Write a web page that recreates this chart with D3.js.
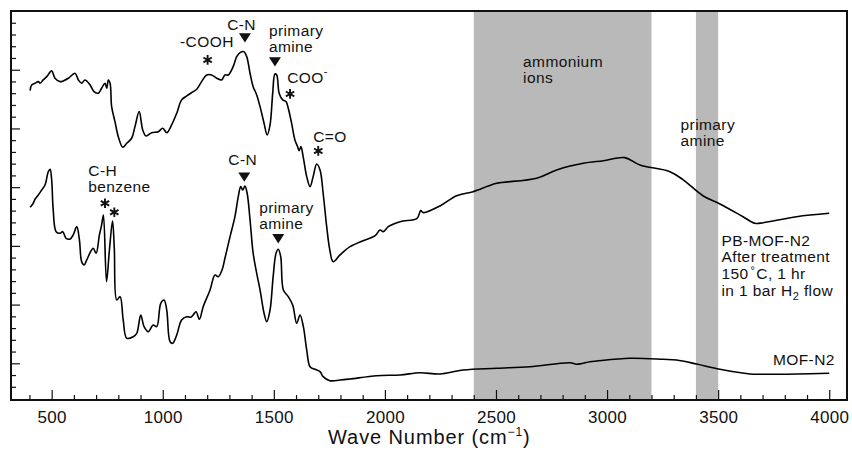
<!DOCTYPE html>
<html><head><meta charset="utf-8">
<script src="https://cdn.jsdelivr.net/npm/d3@7"></script>
<style>
body{margin:0;background:#fff;}
svg{display:block;}
text{font-family:"Liberation Sans",Arial,Helvetica,sans-serif;fill:#111;}
</style></head>
<body>
<svg id="c" width="852" height="450"></svg>
<script>
// ---- data (wavenumber in cm^-1, offset absorbance in arbitrary units) ----
const pbWave = [403,410,425,440,448,462,478,500,515,538,552,575,605,620,635,650,673,691,710,725,740,748,755,763,770,785,800,820,838,860,875,894,910,925,950,980,1000,1018,1040,1063,1085,1108,1137,1153,1175,1198,1220,1243,1265,1280,1295,1317,1333,1348,1365,1378,1393,1407,1423,1438,1456,1470,1483,1495,1505,1513,1524,1540,1555,1565,1580,1595,1607,1614,1622,1632,1648,1663,1677,1693,1708,1722,1738,1752,1767,1798,1843,1902,1955,1978,1993,2015,2068,2145,2161,2173,2248,2323,2397,2465,2503,2683,2773,2893,2983,3080,3148,3283,3343,3433,3508,3612,3665,3703,3853,4000];
const pbValue = [4.644,4.741,4.770,4.797,4.770,4.826,4.882,4.980,4.855,4.797,4.809,4.855,4.940,4.826,4.770,4.826,4.741,4.627,4.600,4.685,4.770,4.685,4.826,4.770,4.371,4.116,3.860,3.680,3.748,3.833,4.031,4.286,3.974,3.872,3.928,3.945,4.003,3.928,4.060,4.259,4.486,4.554,4.627,4.668,4.797,4.911,4.911,4.855,4.826,4.911,4.911,5.053,5.223,5.291,5.308,5.223,4.940,4.712,4.571,4.371,4.089,3.889,4.060,4.600,4.928,4.911,4.600,4.486,4.457,4.344,4.089,3.804,3.690,3.622,3.690,3.520,3.179,3.009,3.179,3.395,3.293,2.896,2.327,1.930,1.731,1.845,1.986,2.089,2.169,2.271,2.242,2.327,2.412,2.470,2.600,2.566,2.680,2.855,2.923,3.020,3.066,3.152,3.293,3.407,3.451,3.503,3.378,3.264,3.123,2.850,2.714,2.497,2.385,2.395,2.497,2.555];

const mofWave = [403,417,425,440,455,470,485,493,500,507,520,538,550,565,583,597,613,625,635,646,658,673,687,700,715,725,733,747,760,774,782,793,808,822,838,867,883,901,916,935,957,973,991,1006,1018,1033,1045,1063,1085,1108,1126,1137,1150,1165,1182,1213,1235,1250,1267,1280,1303,1325,1340,1351,1360,1370,1380,1393,1407,1423,1438,1456,1468,1483,1497,1510,1520,1531,1543,1565,1585,1603,1618,1633,1648,1663,1685,1708,1722,1752,1798,1843,1963,2068,2158,2248,2353,2503,2653,2833,2863,2923,2953,3103,3253,3313,3403,3508,3643,3703,3853,4000];
const mofValue = [2.658,2.726,2.794,2.867,2.952,3.037,3.264,3.305,3.123,2.612,2.242,2.215,2.242,2.129,2.118,2.186,2.327,2.101,1.731,1.675,1.760,1.884,1.959,1.874,2.186,2.356,2.526,1.390,1.930,2.424,1.959,1.078,1.135,0.738,0.426,0.453,0.511,0.823,0.624,0.538,0.652,0.624,1.022,1.078,0.908,0.368,0.341,0.482,0.738,0.794,0.784,0.823,0.879,0.750,0.964,1.249,1.504,1.475,1.589,1.789,2.157,2.497,2.838,3.009,2.952,3.020,2.896,2.441,1.874,1.533,1.249,0.852,0.709,0.908,1.475,1.874,1.942,1.816,1.249,1.135,0.993,0.681,0.823,0.624,0.227,-0.058,-0.102,-0.143,-0.228,-0.296,-0.285,-0.267,-0.211,-0.199,-0.160,-0.182,-0.114,-0.085,-0.058,0.010,-0.017,0.027,0.039,0.085,0.068,0.056,-0.012,-0.102,-0.182,-0.187,-0.182,-0.170];

const bandStart = [2400, 3400];
const bandEnd   = [3200, 3500];

const xMajorTicks = [500,1000,1500,2000,2500,3000,3500,4000];
const xMinorTicks = [400,600,700,800,900,1100,1200,1300,1400,1600,1700,1800,1900,2100,2200,2300,2400,2600,2700,2800,2900,3100,3200,3300,3400,3600,3700,3800,3900];
const yMajorTicks = [0,1,2,3,4,5];
const yMinorTicks = [-0.4,-0.2,0.2,0.4,0.6,0.8,1.2,1.4,1.6,1.8,2.2,2.4,2.6,2.8,3.2,3.4,3.6,3.8,4.2,4.4,4.6,4.8,5.2,5.4,5.6,5.8];

// annotation labels
const textLabels = [
  {w:1078, v:5.393, t:"-COOH", a:"start"},
  {w:1355, v:5.678, t:"C-N", a:"middle"},
  {w:1478, v:5.576, t:"primary", a:"start"},
  {w:1478, v:5.305, t:"amine", a:"start"},
  {w:1677, v:3.775, t:"C=O", a:"start"},
  {w:1360, v:3.378, t:"C-N", a:"middle"},
  {w:665,  v:3.188, t:"C-H", a:"start"},
  {w:665,  v:2.917, t:"benzene", a:"start"},
  {w:1434, v:2.560, t:"primary", a:"start"},
  {w:1434, v:2.285, t:"amine", a:"start"},
  {w:2622, v:5.053, t:"ammonium", a:"start"},
  {w:2622, v:4.770, t:"ions", a:"start"},
  {w:3331, v:3.974, t:"primary", a:"start"},
  {w:3331, v:3.702, t:"amine", a:"start"},
  {w:3515, v:1.998, t:"PB-MOF-N2", a:"start"},
  {w:3515, v:1.718, t:"After treatment", a:"start"},
  {w:4025, v:-0.029, t:"MOF-N2", a:"end"}
];
const triangleMarks = [[1370,5.542],[1505,5.133],[1367,3.170],[1520,2.121]];
const asteriskMarks = [[1202,5.167],[1573,4.588],[1700,3.617],[740,2.726],[782,2.572]];

// ---- chart ----
const svg = d3.select("#c");
const x = d3.scaleLinear().domain([317,4080]).range([11,847]);
const y = d3.scaleLinear().domain([-0.625,6]).range([400,11]);

// bands
svg.append("g").selectAll("rect").data(bandStart.map((s,i)=>[s,bandEnd[i]])).join("rect")
  .attr("x", d=>x(d[0])).attr("width", d=>x(d[1])-x(d[0]))
  .attr("y", y(6)).attr("height", y(-0.625)-y(6))
  .attr("fill", "#b9b9b9");

// axes
const font = '"Liberation Sans",Arial,Helvetica,sans-serif';
svg.append("g").attr("transform","translate(0,400)")
  .call(d3.axisBottom(x).tickValues(xMinorTicks).tickSize(-5).tickFormat(""));
const gx = svg.append("g").attr("transform","translate(0,400)")
  .call(d3.axisBottom(x).tickValues(xMajorTicks).tickSize(-10).tickPadding(10.5).tickFormat(d3.format("d")));
gx.selectAll("text").attr("font-size",17).attr("font-family",font).attr("fill","#111").attr("letter-spacing",0.3);
svg.append("g").attr("transform","translate(11,0)")
  .call(d3.axisLeft(y).tickValues(yMinorTicks).tickSize(-5).tickFormat(""));
svg.append("g").attr("transform","translate(11,0)")
  .call(d3.axisLeft(y).tickValues(yMajorTicks).tickSize(-9).tickFormat(""));
svg.selectAll(".domain").remove();
svg.selectAll(".tick line").attr("stroke","#111").attr("stroke-width",1.2);

// curves
const line = d3.line().x(d=>x(d[0])).y(d=>y(d[1])).curve(d3.curveCatmullRom.alpha(0.5));
svg.append("path").datum(pbWave.map((w,i)=>[w,pbValue[i]]))
  .attr("d", line).attr("fill","none").attr("stroke","#000").attr("stroke-width",1.6).attr("stroke-linejoin","round");
svg.append("path").datum(mofWave.map((w,i)=>[w,mofValue[i]]))
  .attr("d", line).attr("fill","none").attr("stroke","#000").attr("stroke-width",1.6).attr("stroke-linejoin","round");

// frame
svg.append("rect").attr("x",x(317)).attr("y",y(6)).attr("width",x(4080)-x(317)).attr("height",y(-0.625)-y(6))
  .attr("fill","none").attr("stroke","#111").attr("stroke-width",2);

// annotations
const ann = svg.append("g").attr("font-size",15.5).attr("letter-spacing",0.4);
ann.selectAll("text.lab").data(textLabels).join("text").attr("class","lab")
  .attr("x", d=>x(d.w)).attr("y", d=>y(d.v)).attr("text-anchor", d=>d.a).text(d=>d.t);

// COO- with superscript
const coo = ann.append("text").attr("x", x(1560)).attr("y", y(4.770));
coo.append("tspan").text("COO");
coo.append("tspan").attr("font-size",11).attr("dy",-8).text("-");

// 150 °C, 1 hr
const t150 = ann.append("text").attr("x", x(3515)).attr("y", y(1.431));
t150.append("tspan").text("150");
t150.append("tspan").attr("font-size",11).attr("dy",-5).attr("dx",2).text("°");
t150.append("tspan").attr("dy",5).attr("dx",1).text("C, 1 hr");

// in 1 bar H2 flow
const th2 = ann.append("text").attr("x", x(3515)).attr("y", y(1.140));
th2.append("tspan").text("in 1 bar H");
th2.append("tspan").attr("font-size",11).attr("dy",4).text("2");
th2.append("tspan").attr("dy",-4).text(" flow");

// triangles
svg.append("g").selectAll("path").data(triangleMarks).join("path")
  .attr("transform", d=>`translate(${x(d[0])},${y(d[1])})`)
  .attr("d","M-6,-4.7L6,-4.7L0,4.7Z").attr("fill","#111");

// asterisks
svg.append("g").selectAll("path").data(asteriskMarks).join("path")
  .attr("transform", d=>`translate(${x(d[0])},${y(d[1])})`)
  .attr("d","M0,-4.8L0,4.8M-4.2,-2.4L4.2,2.4M-4.2,2.4L4.2,-2.4")
  .attr("stroke","#111").attr("stroke-width",1.9).attr("fill","none");

// axis title
const title = svg.append("text").attr("x", x(2200)).attr("y", 444).attr("text-anchor","middle")
  .attr("font-size",20).attr("letter-spacing",0.9);
title.append("tspan").text("Wave Number (cm");
title.append("tspan").attr("font-size",12).attr("dy",-8).text("−1");
title.append("tspan").attr("dy",8).text(")");
</script>
</body></html>
